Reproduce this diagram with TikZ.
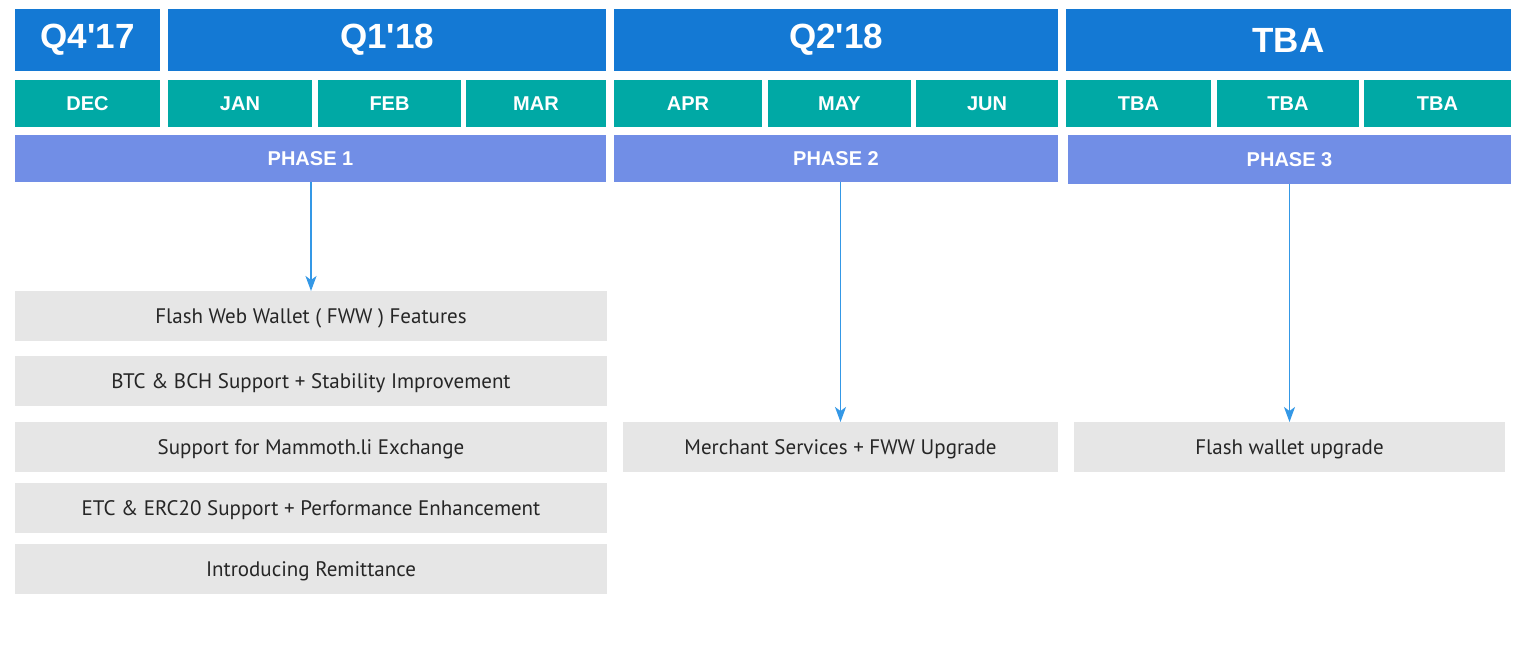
\documentclass[tikz,border=0pt]{standalone}
\usepackage{fontspec}
\setmainfont{Liberation Sans}
\newfontfamily\taskfont{PT Sans}
\usetikzlibrary{arrows.meta}

\definecolor{qblue}{RGB}{20,121,212}
\definecolor{mteal}{RGB}{0,169,165}
\definecolor{phviolet}{RGB}{113,142,230}
\definecolor{taskgray}{RGB}{230,230,230}
\definecolor{flowblue}{RGB}{52,152,230}

\tikzset{
  cell/.style={inner sep=0pt, outer sep=0pt, anchor=north west, text=white},
  quarter/.style={cell, fill=qblue, minimum height=62pt, font=\bfseries\fontsize{35}{40}\selectfont},
  month/.style={cell, fill=mteal, minimum height=47pt, font=\bfseries\fontsize{20}{24}\selectfont},
  phase/.style={cell, fill=phviolet, minimum height=47pt, font=\bfseries\fontsize{20}{24}\selectfont},
  task/.style={inner sep=0pt, outer sep=0pt, anchor=north west, fill=taskgray, minimum height=50pt,
    text height=14.5pt, text depth=0pt, text=black!85, font=\taskfont\fontsize{21}{25}\selectfont},
  flow/.style={draw=flowblue, line width=1.5pt, -{Stealth[length=15pt,width=11pt,inset=4pt]}}
}

\begin{document}
\begin{tikzpicture}[x=1pt,y=-1pt]
\fill[white] (0,0) rectangle (1531,653);
\useasboundingbox (0,0) rectangle (1531,653);
% quarters
\node[quarter, minimum width=145pt] (q4) at (15,9) {Q4\textquotesingle17};
\node[quarter, minimum width=438pt] (q1) at (168,9) {Q1\textquotesingle18};
\node[quarter, minimum width=444pt] (q2) at (614,9) {Q2\textquotesingle18};
\node[quarter, minimum width=445pt] (qt) at (1066,9) {TBA};
% months
\node[month, minimum width=145pt] (dec) at (15,80) {DEC};
\node[month, minimum width=144pt] (jan) at (168,80) {JAN};
\node[month, minimum width=143pt] (feb) at (318,80) {FEB};
\node[month, minimum width=140pt] (mar) at (466,80) {MAR};
\node[month, minimum width=148pt] (apr) at (614,80) {APR};
\node[month, minimum width=143pt] (may) at (768,80) {MAY};
\node[month, minimum width=142pt] (jun) at (916,80) {JUN};
\node[month, minimum width=145pt] (tba1) at (1066,80) {TBA};
\node[month, minimum width=142pt] (tba2) at (1217,80) {TBA};
\node[month, minimum width=147pt] (tba3) at (1364,80) {TBA};
% phases
\node[phase, minimum width=591pt] (ph1) at (15,135) {PHASE 1};
\node[phase, minimum width=444pt] (ph2) at (614,135) {PHASE 2};
\node[phase, minimum width=443pt, minimum height=49pt] (ph3) at (1068,135) {PHASE 3};
% tasks
\node[task, minimum width=592pt] (fww) at (15,291) {Flash Web Wallet ( FWW ) Features};
\node[task, minimum width=592pt] (btc) at (15,356) {BTC \& BCH Support + Stability Improvement};
\node[task, minimum width=592pt] (mam) at (15,422) {Support for Mammoth.li Exchange};
\node[task, minimum width=592pt] (etc) at (15,483) {ETC \& ERC20 Support + Performance Enhancement};
\node[task, minimum width=592pt] (rem) at (15,544) {Introducing Remittance};
\node[task, minimum width=435pt] (merch) at (623,422) {Merchant Services + FWW Upgrade};
\node[task, minimum width=431pt] (upg) at (1074,422) {Flash wallet upgrade};
% arrows
\draw[flow] (ph1.south -| fww.north) -- (fww.north);
\draw[flow] (ph2.south -| merch.north) -- (merch.north);
\draw[flow] (ph3.south) -- (upg.north);
\end{tikzpicture}
\end{document}
